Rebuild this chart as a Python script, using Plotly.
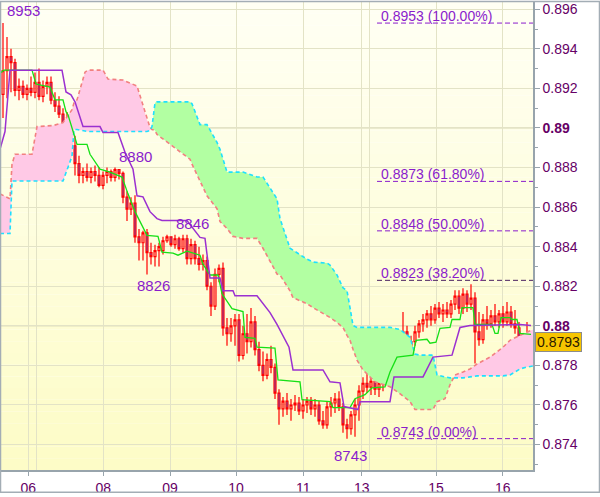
import plotly.graph_objects as go

# ---------------- data ----------------
bar_index = list(range(132))
opens = [0.8917,0.8929,0.8936,0.8933,0.8919,0.8921,0.8917,0.8920,0.8918,0.8923,
         0.8916,0.8921,0.8923,0.8914,0.8911,0.8907,0.8902,0.8899,0.8891,0.8882,
         0.8876,0.8878,0.8875,0.8878,0.8876,0.8871,0.8876,0.8878,0.8875,0.8879,
         0.8877,0.8865,0.8859,0.8862,0.8845,0.8842,0.8847,0.8837,0.8835,0.8838,
         0.8838,0.8843,0.8845,0.8841,0.8844,0.8839,0.8844,0.8834,0.8841,0.8834,
         0.8831,0.8833,0.8820,0.8810,0.8826,0.8829,0.8799,0.8796,0.8800,0.8803,
         0.8785,0.8796,0.8792,0.8802,0.8788,0.8780,0.8775,0.8783,0.8779,0.8766,
         0.8758,0.8762,0.8758,0.8760,0.8761,0.8757,0.8760,0.8762,0.8758,0.8760,
         0.8752,0.8750,0.8759,0.8761,0.8763,0.8759,0.8750,0.8748,0.8755,0.8760,
         0.8767,0.8771,0.8769,0.8772,0.8768,0.8771,0.8773,0.8787,0.8792,0.8781,
         0.8790,0.8797,0.8787,0.8792,0.8797,0.8801,0.8803,0.8806,0.8803,0.8809,
         0.8806,0.8808,0.8806,0.8811,0.8815,0.8809,0.8816,0.8811,0.8814,0.8797,
         0.8793,0.8803,0.8801,0.8805,0.8802,0.8806,0.8802,0.8807,0.8801,0.8799,
         0.8782,0.8788]
highs = [0.8953,0.8946,0.8940,0.8935,0.8925,0.8924,0.8922,0.8926,0.8928,0.8930,
         0.8924,0.8926,0.8926,0.8918,0.8916,0.8910,0.8908,0.8901,0.8896,0.8886,
         0.8880,0.8882,0.8880,0.8881,0.8880,0.8878,0.8880,0.8879,0.8880,0.8879,
         0.8878,0.8868,0.8865,0.8866,0.8849,0.8848,0.8849,0.8842,0.8841,0.8842,
         0.8845,0.8846,0.8845,0.8846,0.8845,0.8846,0.8846,0.8844,0.8843,0.8840,
         0.8836,0.8835,0.8822,0.8829,0.8831,0.8832,0.8804,0.8804,0.8806,0.8806,
         0.8800,0.8806,0.8809,0.8805,0.8792,0.8787,0.8786,0.8790,0.8781,0.8768,
         0.8764,0.8766,0.8763,0.8765,0.8764,0.8763,0.8764,0.8764,0.8763,0.8762,
         0.8757,0.8762,0.8764,0.8766,0.8767,0.8761,0.8753,0.8757,0.8763,0.8770,
         0.8774,0.8776,0.8774,0.8775,0.8773,0.8776,0.8790,0.8796,0.8796,0.8795,
         0.8807,0.8800,0.8795,0.8800,0.8803,0.8806,0.8808,0.8810,0.8811,0.8812,
         0.8811,0.8812,0.8813,0.8818,0.8818,0.8819,0.8818,0.8821,0.8817,0.8807,
         0.8806,0.8810,0.8808,0.8811,0.8808,0.8810,0.8812,0.8810,0.8808,0.8802,
         0.8795,0.8802]
lows = [0.8905,0.8915,0.8918,0.8916,0.8914,0.8915,0.8914,0.8916,0.8915,0.8914,
        0.8913,0.8917,0.8912,0.8908,0.8905,0.8900,0.8888,0.8888,0.8876,0.8872,
        0.8872,0.8873,0.8872,0.8873,0.8870,0.8869,0.8872,0.8873,0.8873,0.8874,
        0.8862,0.8853,0.8856,0.8842,0.8833,0.8833,0.8826,0.8831,0.8830,0.8830,
        0.8836,0.8842,0.8840,0.8839,0.8838,0.8837,0.8831,0.8831,0.8831,0.8828,
        0.8828,0.8818,0.8805,0.8808,0.8822,0.8795,0.8790,0.8792,0.8790,0.8782,
        0.8783,0.8786,0.8789,0.8785,0.8777,0.8772,0.8773,0.8776,0.8763,0.8750,
        0.8754,0.8755,0.8752,0.8757,0.8755,0.8753,0.8756,0.8755,0.8754,0.8750,
        0.8748,0.8748,0.8754,0.8756,0.8757,0.8746,0.8743,0.8745,0.8744,0.8752,
        0.8763,0.8766,0.8765,0.8765,0.8764,0.8767,0.8770,0.8782,0.8778,0.8777,
        0.8785,0.8784,0.8782,0.8790,0.8794,0.8797,0.8799,0.8800,0.8801,0.8804,
        0.8802,0.8804,0.8804,0.8808,0.8806,0.8806,0.8807,0.8808,0.8781,0.8790,
        0.8791,0.8798,0.8799,0.8800,0.8799,0.8799,0.8800,0.8799,0.8796,0.8780,
        0.8779,0.8785]
closes = [0.8929,0.8936,0.8933,0.8919,0.8921,0.8917,0.8920,0.8918,0.8923,0.8916,
          0.8921,0.8923,0.8914,0.8911,0.8907,0.8902,0.8899,0.8891,0.8882,0.8876,
          0.8878,0.8875,0.8878,0.8876,0.8871,0.8876,0.8878,0.8875,0.8879,0.8877,
          0.8865,0.8859,0.8862,0.8845,0.8842,0.8847,0.8837,0.8835,0.8838,0.8840,
          0.8843,0.8845,0.8841,0.8844,0.8839,0.8844,0.8834,0.8841,0.8834,0.8831,
          0.8833,0.8820,0.8810,0.8826,0.8829,0.8799,0.8796,0.8800,0.8803,0.8785,
          0.8796,0.8792,0.8802,0.8788,0.8780,0.8775,0.8783,0.8779,0.8766,0.8758,
          0.8762,0.8758,0.8760,0.8761,0.8757,0.8760,0.8762,0.8758,0.8760,0.8752,
          0.8750,0.8759,0.8761,0.8763,0.8759,0.8750,0.8748,0.8755,0.8760,0.8767,
          0.8771,0.8769,0.8772,0.8768,0.8771,0.8773,0.8787,0.8792,0.8781,0.8790,
          0.8797,0.8787,0.8792,0.8797,0.8801,0.8803,0.8806,0.8803,0.8809,0.8806,
          0.8808,0.8806,0.8811,0.8815,0.8809,0.8816,0.8811,0.8814,0.8797,0.8793,
          0.8803,0.8801,0.8805,0.8802,0.8806,0.8802,0.8807,0.8801,0.8799,0.8782,
          0.8788,0.8793]

tenkan_x = [-0.75,0.25,7.25,8.25,11.75,13.0,15.0,15.75,16.25,17.25,17.75,18.5,21.0,21.75,
            24.25,26.75,29.75,31.25,33.0,36.0,38.75,39.75,42.5,43.75,46.0,49.25,50.0,51.75,
            53.75,54.75,57.25,60.0,60.5,63.0,63.5,68.0,68.75,74.25,74.75,81.75,82.5,86.75,
            88.0,90.5,92.25,95.5,96.75,98.5,102.5,103.25,106.0,106.75,108.25,109.25,111.75,
            112.25,114.25,114.75,117.5,118.0,122.25,123.0,123.75,124.5,126.75,127.25,128.5,
            129.25,132.0]
tenkan_y = [0.89277,0.89292,0.89292,0.89222,0.89207,0.89142,0.89142,0.89082,0.89067,0.89007,
            0.88967,0.88917,0.88917,0.88867,0.88792,0.88777,0.88752,0.88667,0.88577,0.88457,
            0.88452,0.88372,0.88367,0.88357,0.88377,0.88357,0.88312,0.88257,0.88257,0.88162,
            0.88087,0.88072,0.87942,0.87937,0.87892,0.87887,0.87727,0.87717,0.87627,0.87617,
            0.87587,0.87587,0.87632,0.87652,0.87687,0.87692,0.87767,0.87842,0.87852,0.87927,
            0.87932,0.87912,0.87917,0.87987,0.87992,0.88032,0.88032,0.88092,0.88092,0.88007,
            0.88007,0.87962,0.87962,0.88042,0.88042,0.88032,0.88032,0.87962,0.87957]

kijun_x = [-0.75,0.5,1.75,14.75,15.75,17.0,18.0,20.0,24.25,25.0,28.75,30.5,32.5,33.5,35.0,
           36.75,38.5,39.75,46.0,47.5,49.25,50.5,51.75,54.25,55.0,57.5,58.0,63.5,66.75,68.5,
           71.5,72.5,80.0,81.75,84.25,85.25,88.75,89.25,96.75,97.75,105.0,107.5,112.25,114.25,
           116.75,129.25,132.0]
kijun_y = [0.88892,0.88982,0.89292,0.89292,0.89182,0.89167,0.89132,0.89007,0.89007,0.88977,
           0.88977,0.88877,0.88792,0.88657,0.88652,0.88577,0.88542,0.88532,0.88532,0.88492,
           0.88447,0.88442,0.88242,0.88242,0.88177,0.88177,0.88152,0.88152,0.88067,0.88007,
           0.87892,0.87777,0.87777,0.87717,0.87712,0.87592,0.87577,0.87617,0.87617,0.87742,
           0.87742,0.87842,0.87852,0.87992,0.88002,0.88007,0.88002]

cloud_x = [-0.75,1.75,2.25,3.0,7.25,8.5,12.5,15.0,17.25,17.75,18.5,20.5,21.25,25.0,26.25,30.0,
           33.5,36.0,36.75,37.25,38.0,38.5,42.5,46.75,47.25,49.25,51.0,53.5,54.25,56.0,57.5,
           60.0,63.5,65.0,68.5,69.25,71.75,72.5,74.25,76.0,77.5,81.0,81.75,83.5,85.0,86.0,
           86.75,87.5,88.5,90.0,93.0,96.75,99.25,101.75,103.0,104.25,107.5,108.5,110.5,111.75,
           113.0,115.0,116.75,118.5,121.75,125.0,126.75,129.25,131.0,132.5]
span_a = [0.88467,0.88467,0.88732,0.88732,0.88732,0.88732,0.88732,0.88732,0.88857,0.88992,
          0.88992,0.88987,0.88982,0.88982,0.88982,0.88982,0.88982,0.88982,0.88987,0.89007,
          0.89127,0.89132,0.89132,0.89132,0.89122,0.89017,0.89017,0.88927,0.88892,0.88777,
          0.88777,0.88777,0.88752,0.88752,0.88642,0.88542,0.88392,0.88382,0.88357,0.88337,
          0.88322,0.88317,0.88307,0.88257,0.88192,0.88177,0.88092,0.88002,0.87992,0.87992,
          0.87992,0.87992,0.87982,0.87942,0.87857,0.87852,0.87852,0.87752,0.87742,0.87737,
          0.87737,0.87737,0.87742,0.87747,0.87747,0.87747,0.87752,0.87782,0.87792,0.87797]
span_b = [0.88667,0.88642,0.88817,0.88867,0.88867,0.89007,0.89012,0.89027,0.89092,0.89127,
          0.89142,0.89282,0.89292,0.89292,0.89247,0.89242,0.89212,0.89042,0.89002,0.88992,
          0.88987,0.88967,0.88907,0.88842,0.88817,0.88732,0.88657,0.88592,0.88527,0.88492,
          0.88452,0.88442,0.88442,0.88392,0.88262,0.88257,0.88177,0.88142,0.88127,0.88112,
          0.88092,0.88052,0.88042,0.88017,0.87992,0.87952,0.87927,0.87882,0.87827,0.87777,
          0.87717,0.87692,0.87657,0.87617,0.87577,0.87577,0.87577,0.87617,0.87632,0.87702,
          0.87752,0.87767,0.87782,0.87807,0.87842,0.87892,0.87927,0.87952,0.87967,0.87982]

fib_levels = [0.8953, 0.8873, 0.8848, 0.8823, 0.8743]
fib_labels = ["0.8953 (100.00%)", "0.8873 (61.80%)", "0.8848 (50.00%)",
              "0.8823 (38.20%)", "0.8743 (0.00%)"]
fib_colors = ["#8a1ccc", "#8a1ccc", "#8a1ccc", "#4a2060", "#8a1ccc"]
fib_start = 93.5

swing_labels = ["8953", "8880", "8846", "8826", "8743"]
swing_x = [5.0, 33.0, 47.25, 37.5, 86.75]
swing_y = [0.8953, 0.8880, 0.8846, 0.8826, 0.8743]
swing_shift = [13, 11, 11, -11, -17]

day_ticks = [6.33, 25.08, 41.75, 58.25, 75.08, 89.67, 108.25, 124.92]
day_labels = ["06", "08", "09", "10", "11", "13", "15", "16"]
week_lines = [8.42, 91.58]

price_ticks = [0.874, 0.876, 0.878, 0.880, 0.882, 0.884, 0.886, 0.888, 0.890, 0.892, 0.894, 0.896]
price_labels = ["0.874", "0.876", "0.878", "<b>0.88</b>", "0.882", "0.884", "0.886", "0.888",
                "<b>0.89</b>", "0.892", "0.894", "0.896"]
bold_levels = [0.880, 0.890]

X_RANGE = [-0.5, 132.5]
Y_RANGE = [0.872715, 0.896365]

# ---------------- styles ----------------
FONT = "Liberation Sans"
AXIS_TXT = "#660066"
LABEL_PURPLE = "#8a1ccc"
GRID = "#e3e3c6"
AXIS_LINE = "#98a4ac"
GREEN_FILL = "#b2ffa2"
PINK_FILL = "#ffc9e6"

fig = go.Figure()

# cloud regions split at crossings of the two spans
def split_cloud(xs, a, b):
    regions = []
    cur = [(xs[0], a[0], b[0])]
    for i in range(1, len(xs)):
        d0 = a[i - 1] - b[i - 1]
        d1 = a[i] - b[i]
        if d0 * d1 < 0:
            t = d0 / (d0 - d1)
            xc = xs[i - 1] + t * (xs[i] - xs[i - 1])
            yc = a[i - 1] + t * (a[i] - a[i - 1])
            cur.append((xc, yc, yc))
            regions.append((cur, d0 > 0))
            cur = [(xc, yc, yc)]
        cur.append((xs[i], a[i], b[i]))
    regions.append((cur, (a[-1] - b[-1]) > 0))
    return regions

for pts, bull in split_cloud(cloud_x, span_a, span_b):
    px = [p[0] for p in pts] + [p[0] for p in reversed(pts)]
    py = [p[1] for p in pts] + [p[2] for p in reversed(pts)]
    fig.add_trace(go.Scatter(x=px, y=py, fill="toself", mode="lines",
                             line=dict(width=0), fillcolor=GREEN_FILL if bull else PINK_FILL,
                             hoverinfo="skip", showlegend=False))

fig.add_trace(go.Scatter(x=cloud_x, y=span_b, mode="lines",
                         line=dict(color="#f28080", width=1.6, dash="4px,3px"),
                         hoverinfo="skip", showlegend=False))
fig.add_trace(go.Scatter(x=cloud_x, y=span_a, mode="lines",
                         line=dict(color="#1ee0ff", width=1.6, dash="4px,3px"),
                         hoverinfo="skip", showlegend=False))

fig.add_trace(go.Candlestick(
    x=bar_index, open=opens, high=highs, low=lows, close=closes,
    increasing=dict(line=dict(color="#ff0000", width=1.2), fillcolor="rgba(0,0,0,0)"),
    decreasing=dict(line=dict(color="#ff0000", width=1.2), fillcolor="#6a5ad8"),
    whiskerwidth=0, hoverinfo="skip", showlegend=False))

fig.add_trace(go.Scatter(x=tenkan_x, y=tenkan_y, mode="lines",
                         line=dict(color="#16e016", width=1.3),
                         hoverinfo="skip", showlegend=False))
fig.add_trace(go.Scatter(x=kijun_x, y=kijun_y, mode="lines",
                         line=dict(color="#9b30d0", width=1.5),
                         hoverinfo="skip", showlegend=False))

shapes = []
# vertical gradient background (below the grid)
n_bands = 40
bottom_c = (253, 252, 198)
top_c = (255, 255, 244)
for k in range(n_bands):
    f = (k + 0.5) / n_bands
    c = tuple(round(bottom_c[j] + (top_c[j] - bottom_c[j]) * f) for j in range(3))
    shapes.append(dict(type="rect", xref="paper", yref="paper", x0=0, x1=1,
                       y0=k / n_bands, y1=(k + 1) / n_bands, layer="below",
                       line=dict(width=0), fillcolor="rgb(%d,%d,%d)" % c))
# slightly darker round-number grid lines
for lv in bold_levels:
    shapes.append(dict(type="line", xref="paper", yref="y", x0=0, x1=1, y0=lv, y1=lv,
                       layer="between", line=dict(color="#d2d2ac", width=1)))
# fibonacci levels
for lv, col in zip(fib_levels, fib_colors):
    shapes.append(dict(type="line", xref="x", yref="y", x0=fib_start, x1=X_RANGE[1],
                       y0=lv, y1=lv, layer="above",
                       line=dict(color=col, width=1, dash="5px,3px")))
# outer frame of the whole picture
shapes.append(dict(type="rect", xref="paper", yref="paper",
                   x0=-0.5 / 532, x1=598.5 / 532, y0=-22.5 / 473, y1=1 + 0.5 / 473,
                   line=dict(color="#a3adb5", width=1.5), fillcolor="rgba(0,0,0,0)"))

annotations = []
for lv, txt in zip(fib_levels, fib_labels):
    annotations.append(dict(x=fib_start + 0.5, y=lv, xref="x", yref="y", text=txt,
                            showarrow=False, xanchor="left", yanchor="bottom", yshift=-3,
                            font=dict(family=FONT, size=14, color=LABEL_PURPLE)))
for txt, sx, sy, sh in zip(swing_labels, swing_x, swing_y, swing_shift):
    annotations.append(dict(x=sx, y=sy, xref="x", yref="y", text=txt, showarrow=False,
                            xanchor="center", yanchor="middle", yshift=sh,
                            font=dict(family=FONT, size=15, color=LABEL_PURPLE)))
annotations.append(dict(x=1, y=closes[-1], xref="paper", yref="y",
                        text="%.4f" % closes[-1], showarrow=False, xanchor="left",
                        yanchor="middle", xshift=2, yshift=-2, bgcolor="#f7c500",
                        bordercolor="#8c8c8c", borderwidth=1, borderpad=1,
                        font=dict(family=FONT, size=14, color="#2a1800")))

fig.update_layout(
    width=600, height=497,
    margin=dict(l=1, r=67, t=1, b=23),
    paper_bgcolor="#ffffff", plot_bgcolor="rgba(0,0,0,0)",
    showlegend=False, shapes=shapes, annotations=annotations,
    xaxis=dict(range=X_RANGE, rangeslider=dict(visible=False), tickmode="array",
               tickvals=day_ticks, ticktext=day_labels, ticks="outside", ticklen=4,
               tickcolor=AXIS_LINE, showgrid=True, gridcolor=GRID, gridwidth=1,
               showline=True, linecolor=AXIS_LINE, linewidth=1.5, zeroline=False,
               tickfont=dict(family=FONT, size=14, color=AXIS_TXT),
               minor=dict(tickmode="array", tickvals=week_lines, showgrid=True,
                          gridcolor=GRID, ticks="")),
    yaxis=dict(range=Y_RANGE, side="right", tickmode="array", tickvals=price_ticks,
               ticktext=price_labels, ticks="outside", ticklen=5, tickcolor=AXIS_LINE,
               showgrid=True, gridcolor=GRID, gridwidth=1, showline=True,
               linecolor=AXIS_LINE, linewidth=1.5, zeroline=False,
               tickfont=dict(family=FONT, size=14, color=AXIS_TXT),
               minor=dict(tickmode="linear", tick0=0.873, dtick=0.002, ticks="outside",
                          ticklen=3, tickcolor=AXIS_LINE, showgrid=False)),
)

fig.write_html("out.html", config={"displayModeBar": False},
               post_script="document.body.style.margin='0';document.body.style.overflow='hidden';")
